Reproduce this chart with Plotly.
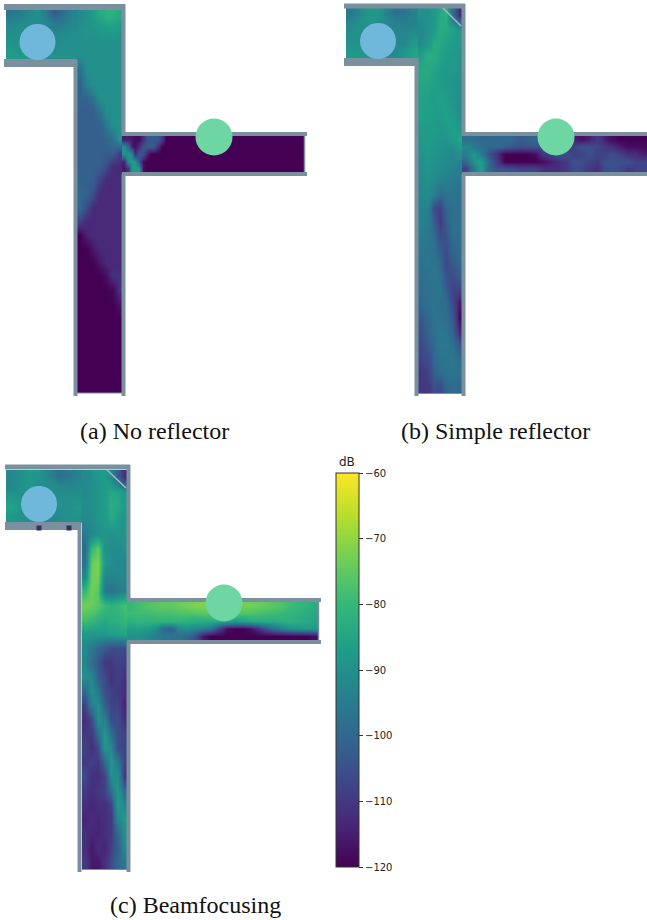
import plotly.graph_objects as go

# dB values (top to bottom, left to right)
a_room = [
 [-97,-95,-92,-90,-96,-103,-98,-93],
 [-92,-91,-91,-91,-92,-96,-95,-92],
 [-90,-90,-90,-90,-91,-92,-91,-90],
 [-89,-90,-90,-91,-91,-91,-90,-90],
 [-87,-88,-88,-90,-90,-90,-90,-90]]
a_vert = [
 [-92,-90,-87,-84,-82,-82,-84],
 [-90,-89,-89,-88,-87,-87,-88],
 [-90,-90,-90,-90,-90,-90,-90],
 [-90,-90,-90,-90,-90,-90,-90],
 [-98,-90,-90,-90,-90,-90,-90],
 [-101,-93,-90,-90,-90,-90,-90],
 [-101,-101,-96,-90,-90,-90,-90],
 [-102,-102,-102,-97,-90,-90,-90],
 [-102,-102,-102,-102,-96,-90,-90],
 [-102,-102,-102,-102,-101,-98,-89],
 [-102,-102,-102,-102,-102,-102,-108],
 [-102,-102,-102,-102,-106,-112,-113],
 [-101,-102,-102,-108,-113,-113,-113],
 [-100,-101,-106,-113,-113,-113,-113],
 [-100,-106,-113,-113,-113,-113,-113],
 [-108,-113,-113,-113,-113,-113,-113],
 [-120,-114,-113,-113,-113,-113,-113],
 [-120,-120,-116,-113,-113,-113,-113],
 [-120,-120,-120,-116,-113,-113,-113],
 [-120,-120,-120,-120,-118,-112,-112],
 [-120,-120,-120,-120,-120,-119,-112],
 [-120,-120,-120,-120,-120,-120,-117],
 [-120,-120,-120,-120,-120,-120,-120],
 [-120,-120,-120,-120,-120,-120,-120],
 [-120,-120,-120,-120,-120,-120,-120],
 [-120,-120,-120,-120,-120,-120,-120],
 [-120,-120,-120,-120,-120,-120,-120],
 [-120,-120,-120,-120,-120,-120,-120]]
a_horz = [
 [-115,-115,-116,-118,-118,-112,-104,-103,-103,-104,-110,-120]+[-120]*36,
 [-90,-100,-115,-118,-112,-104,-103,-103,-105,-112,-120,-120]+[-120]*36,
 [-90,-89,-91,-112,-103,-105,-115,-120,-120,-120,-120,-120]+[-120]*36,
 [-114,-90,-88,-88,-105,-118,-120,-120,-120,-120,-120,-120]+[-120]*36,
 [-116,-112,-88,-87,-88,-118,-120,-120,-120,-120,-120,-120]+[-120]*36]

b_room = [
 [-96,-92,-88,-88,-93,-98,-97,-93],
 [-92,-90,-89,-90,-92,-93,-94,-93],
 [-90,-90,-90,-91,-92,-92,-92,-91],
 [-90,-90,-91,-91,-92,-92,-92,-87],
 [-88,-88,-88,-89,-91,-91,-88,-85]]
b_vert = [
 [-90,-90,-88,-84,-82,-98,-112],
 [-92,-90,-87,-83,-84,-86,-88],
 [-92,-88,-84,-84,-86,-87,-88],
 [-86,-83,-83,-85,-87,-88,-89],
 [-84,-84,-85,-87,-88,-88,-89],
 [-85,-85,-86,-87,-88,-89,-90],
 [-86,-86,-87,-86,-87,-89,-90],
 [-86,-86,-87,-87,-86,-88,-90],
 [-87,-87,-87,-88,-87,-86,-89],
 [-88,-87,-88,-89,-89,-87,-85],
 [-89,-88,-89,-90,-91,-92,-90],
 [-90,-89,-90,-91,-92,-93,-94],
 [-91,-90,-91,-93,-94,-95,-96],
 [-92,-91,-94,-99,-97,-97,-97],
 [-93,-93,-106,-108,-100,-98,-98],
 [-93,-94,-103,-110,-102,-98,-98],
 [-95,-96,-99,-106,-104,-99,-98],
 [-96,-97,-98,-103,-106,-100,-99],
 [-97,-96,-97,-100,-107,-103,-100],
 [-98,-98,-96,-98,-105,-106,-102],
 [-99,-98,-97,-97,-102,-108,-108],
 [-100,-98,-97,-98,-99,-106,-116],
 [-103,-100,-97,-98,-98,-103,-118],
 [-105,-101,-98,-96,-97,-101,-113],
 [-107,-103,-99,-96,-96,-98,-103],
 [-108,-106,-100,-97,-97,-96,-99],
 [-110,-108,-102,-99,-97,-97,-97],
 [-110,-110,-105,-106,-100,-99,-100]]
b_horz = [
 [-98,-98,-100,-100,-100,-100,-100,-103,-102,-100,-103,-105,-108,-112,-115,-118,-115,-110,-115,-118,-120,-120,-120,-120],
 [-92,-95,-98,-100,-100,-101,-103,-105,-104,-104,-106,-107,-110,-112,-108,-105,-105,-107,-110,-112,-115,-118,-118,-118],
 [-95,-88,-95,-105,-112,-120,-120,-120,-120,-118,-110,-108,-105,-105,-108,-108,-105,-108,-108,-106,-108,-112,-112,-115],
 [-100,-89,-86,-100,-110,-120,-120,-120,-120,-120,-118,-115,-112,-110,-105,-105,-108,-110,-105,-105,-105,-105,-108,-108],
 [-108,-96,-86,-100,-105,-105,-106,-108,-108,-108,-112,-112,-112,-110,-106,-107,-110,-112,-106,-105,-107,-110,-108,-108]]

c_room = [
 [-92,-90,-88,-89,-93,-98,-96,-93],
 [-92,-90,-88,-90,-90,-92,-92,-92],
 [-88,-90,-92,-92,-92,-90,-90,-90],
 [-85,-88,-90,-92,-92,-90,-90,-88],
 [-88,-90,-90,-92,-92,-91,-90,-90]]
c_vert = [
 [-92,-90,-88,-87,-92,-102,-112],
 [-92,-90,-89,-87,-84,-85,-88],
 [-91,-90,-89,-87,-83,-84,-87],
 [-92,-91,-89,-88,-84,-87,-89],
 [-96,-92,-90,-89,-90,-89,-89],
 [-99,-80,-75,-90,-91,-91,-90],
 [-98,-74,-72,-88,-91,-92,-92],
 [-92,-73,-73,-92,-93,-92,-92],
 [-80,-73,-76,-96,-98,-95,-93],
 [-73,-74,-76,-79,-82,-80,-78],
 [-78,-80,-82,-84,-82,-82,-80],
 [-88,-88,-88,-88,-87,-86,-85],
 [-92,-96,-100,-103,-106,-106,-106],
 [-92,-99,-104,-110,-110,-108,-109],
 [-90,-92,-102,-106,-112,-108,-112],
 [-100,-90,-96,-106,-108,-110,-112],
 [-108,-94,-90,-102,-108,-108,-114],
 [-112,-106,-90,-94,-106,-106,-112],
 [-110,-110,-98,-88,-98,-106,-108],
 [-108,-112,-106,-88,-92,-106,-108],
 [-110,-108,-110,-100,-88,-96,-108],
 [-106,-112,-112,-108,-90,-90,-110],
 [-110,-112,-110,-108,-98,-88,-98],
 [-112,-114,-112,-112,-108,-88,-92],
 [-114,-112,-114,-112,-110,-92,-88],
 [-112,-114,-114,-112,-110,-100,-90],
 [-112,-116,-112,-114,-108,-102,-92],
 [-110,-116,-116,-112,-106,-100,-96]]
c_horz = [
 [-80,-78,-77,-76,-75,-75,-74,-73,-72,-72,-71,-71,-71,-71,-73,-73,-74,-75,-76,-77,-79,-80,-81,-83],
 [-79,-79,-79,-78,-78,-78,-77,-77,-77,-76,-76,-75,-75,-76,-77,-77,-78,-79,-79,-80,-81,-82,-83,-84],
 [-82,-81,-81,-81,-81,-81,-81,-82,-83,-83,-83,-84,-86,-87,-86,-84,-83,-83,-83,-82,-82,-83,-84,-85],
 [-86,-86,-87,-90,-100,-102,-92,-90,-92,-94,-98,-108,-118,-120,-120,-118,-112,-104,-98,-94,-90,-88,-87,-87],
 [-90,-90,-92,-94,-96,-97,-98,-100,-105,-116,-120,-120,-120,-120,-120,-120,-120,-120,-120,-120,-120,-120,-120,-118]]

# heatmap extents on the page: (values, x left, x right, y top, y bottom)
blocks = [
 (a_room,6,77,8,60),(a_vert,77,122,8,393),(a_horz,122,305,136,172),
 (b_room,346,418,8,58),(b_vert,418,462,8,393),(b_horz,462,647,136,172),
 (c_room,6,82,470,523),(c_vert,82,127,470,869),(c_horz,127,318,602,640)]

# walls: (x points, y points, width)
walls = [
 ([4,125],[7,7],6),([123.5,123.5],[4,135],4),([122,307],[134,134],4),([122,307],[174,174],4),
 ([123.5,123.5],[174,396],4),([75.5,75.5],[60,396],4),([4,77],[63,63],8),
 ([304.5,304.5],[136,172],1.5),([77,122],[393,393],1),
 ([344,465],[6,6],5),([463.5,463.5],[4,135],4),([462,647],[134,134],4),([462,647],[174,174],4),
 ([463.5,463.5],[174,396],4),([416.5,416.5],[58,396],4),([344,418],[62,62],8),
 ([418,462],[393.5,393.5],1),
 ([5,130],[467,467],5),([128.5,128.5],[465,600],4),([127,321],[600,600],4),([127,321],[642,642],4),
 ([128.5,128.5],[642,872],4),([79.5,79.5],[522,872],4),([5,81],[526,526],8),
 ([318.5,318.5],[602,640],1.5),([82,127],[869.5,869.5],1)]
reflectors = [([443,461],[8,26]),([107,126],[470,488])]
leak_x = [39,69]
leak_y = [528,528]
tx_x = [37.5,378,39]
tx_y = [42,41,504]
rx_x = [214,556,224]
rx_y = [137,137,603]
captions = ["(a) No reflector","(b) Simple reflector","(c) Beamfocusing"]
caption_x = [154,495,195]
caption_y = [431,431,905]

fig = go.Figure()
for z,x0,x1,y0,y1 in blocks:
    dx=(x1-x0)/len(z[0]); dy=(y1-y0)/len(z)
    fig.add_trace(go.Heatmap(z=z,x0=x0+dx/2,dx=dx,y0=y0+dy/2,dy=dy,zsmooth="best",coloraxis="coloraxis",hoverinfo="skip"))
for xs,ys,w in walls:
    fig.add_trace(go.Scatter(x=xs,y=ys,mode="lines",line=dict(color="#7b909f",width=w),showlegend=False))
for xs,ys in reflectors:
    fig.add_trace(go.Scatter(x=xs,y=ys,mode="lines",line=dict(color="#a9b7bd",width=1.5),showlegend=False))
fig.add_trace(go.Scatter(x=leak_x,y=leak_y,mode="markers",marker=dict(color="#35305f",size=5,symbol="square"),showlegend=False))
fig.add_trace(go.Scatter(x=tx_x,y=tx_y,mode="markers",marker=dict(color="#6fb8dc",size=36),showlegend=False))
fig.add_trace(go.Scatter(x=rx_x,y=rx_y,mode="markers",marker=dict(color="#6dd6a2",size=37),showlegend=False))

annotations=[dict(text=t,x=x,y=y,xref="x",yref="y",showarrow=False,
        font=dict(family="Liberation Serif",size=24,color="#111")) for t,x,y in zip(captions,caption_x,caption_y)]
annotations.append(dict(text="dB",x=347,y=462,xref="x",yref="y",showarrow=False,
        font=dict(family="DejaVu Sans",size=12,color="#222")))

fig.update_layout(
    width=647,height=920,margin=dict(l=0,r=0,t=0,b=0),
    paper_bgcolor="white",plot_bgcolor="white",showlegend=False,
    xaxis=dict(range=[0,647],visible=False,fixedrange=True),
    yaxis=dict(range=[920,0],visible=False,fixedrange=True),
    coloraxis=dict(cmin=-120,cmax=-60,colorscale="Viridis",
      colorbar=dict(lenmode="pixels",len=394,thicknessmode="pixels",thickness=23,
        x=336/647,xanchor="left",y=1-473/920,yanchor="top",xpad=0,ypad=0,
        tickmode="array",tickvals=[-60,-70,-80,-90,-100,-110,-120],
        ticks="outside",ticklen=4,tickwidth=1,tickcolor="#333",
        tickfont=dict(family="DejaVu Sans",size=10,color="#222"),
        outlinewidth=1,outlinecolor="#333")),
    annotations=annotations)
fig.write_html("out.html",post_script="document.body.style.margin='0';",config={"displayModeBar":False})
